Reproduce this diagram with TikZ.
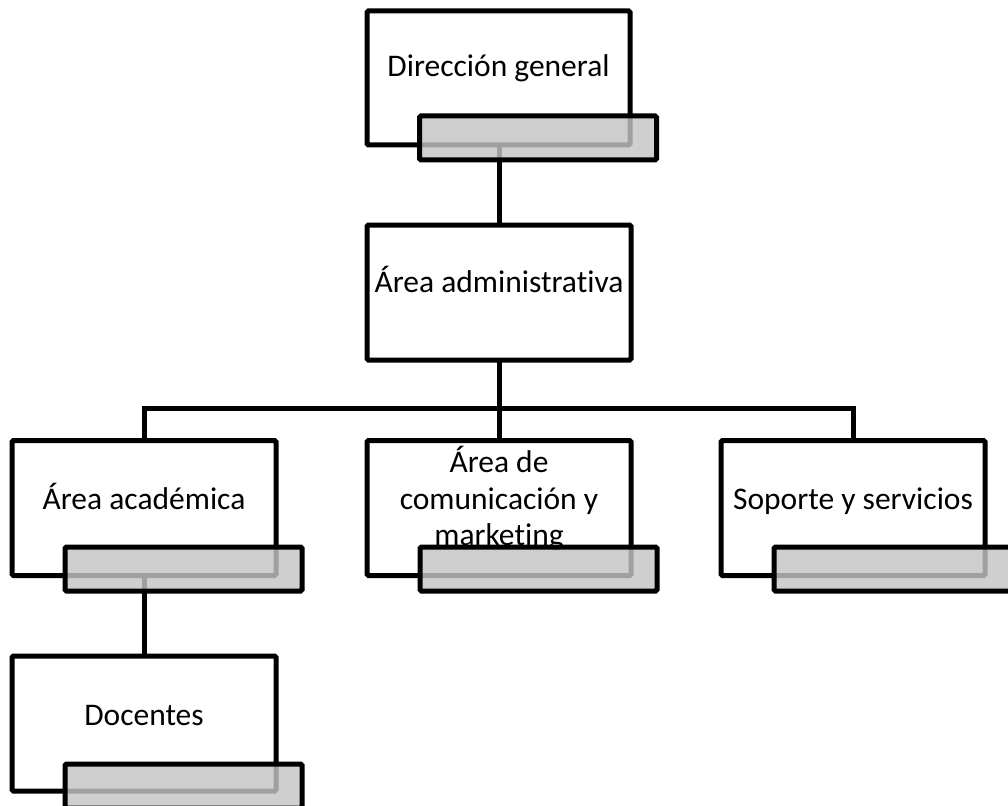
\documentclass[tikz,border=0pt]{standalone}
\usepackage{fontspec}
\setmainfont{Carlito}[Ligatures=NoCommon]
\usetikzlibrary{backgrounds}
\definecolor{tabgray}{gray}{0.77}
\begin{document}
\begin{tikzpicture}[x=1pt,y=-1pt,
  boxstyle/.style={draw=black,fill=white,line width=5pt,rounded corners=1.5pt,
    minimum width=264pt,minimum height=135pt,inner sep=0pt,outer sep=0pt},
  tabstyle/.style={draw=black,fill=tabgray,fill opacity=0.82,line width=5pt,rounded corners=1.5pt,
    minimum width=237pt,minimum height=44pt,inner sep=0pt,outer sep=0pt},
  txt/.style={font=\fontsize{31.5}{36.5}\selectfont,align=center,inner sep=0pt},
  conn/.style={draw=black,line width=5pt}]
\useasboundingbox (0,0) rectangle (1008,805);
% boxes
\node[boxstyle,minimum width=263pt,minimum height=134pt] (dir) at (498.5,78) {};
\node[txt,anchor=base] (tdir) at (498.5,77) {Dirección general};
\node[tabstyle] (dirtab) at (538,138) {};

\node[boxstyle] (adm) at (499,292.5) {};
\node[txt,anchor=base] (tadm) at (499,292) {Área administrativa};

\node[boxstyle] (aca) at (144,508) {};
\node[txt,anchor=base] (taca) at (144,509) {Área académica};
\node[tabstyle] (acatab) at (183.5,569) {};

\node[boxstyle] (com) at (499,508) {};
\node[txt] (tcom) at (499,499) {Área de\\comunicación y\\marketing};
\node[tabstyle] (comtab) at (538.5,569) {};

\node[boxstyle] (sop) at (853,508) {};
\node[txt,anchor=base] (tsop) at (853,509) {Soporte y servicios};
\node[tabstyle] (soptab) at (892.5,569) {};

\node[boxstyle] (doc) at (144,723.5) {};
\node[txt,anchor=base] (tdoc) at (144,725) {Docentes};
\node[tabstyle] (doctab) at (183.5,786) {};

\coordinate (bus) at (499,408);
\begin{pgfonlayer}{background}
\draw[conn] (dir.south -| adm.north) -- (adm.north);
\draw[conn] (adm.south) -- (bus);
\draw[conn] (aca.north) |- (bus) -| (sop.north);
\draw[conn] (bus) -- (com.north);
\draw[conn] (aca.south) -- (doc.north);
\end{pgfonlayer}
\end{tikzpicture}
\end{document}
